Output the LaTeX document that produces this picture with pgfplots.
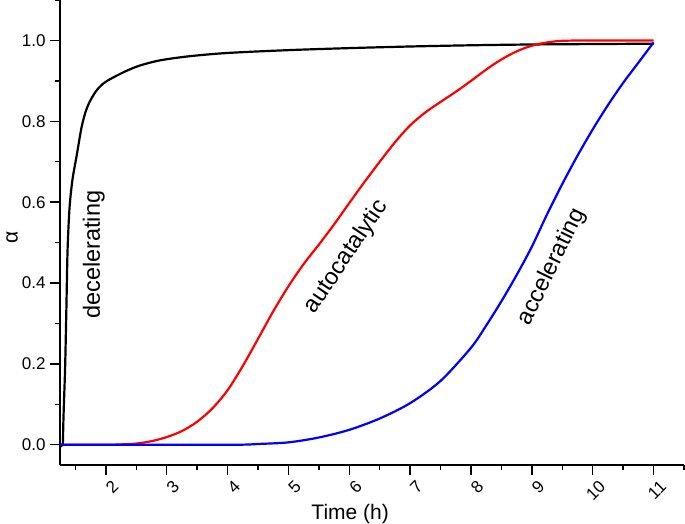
\documentclass[border=0pt]{standalone}
\usepackage{fontspec}
\setmainfont{Liberation Sans}
\usepackage{pgfplots}
\pgfplotsset{compat=1.18}

% alpha(t) curves
\pgfplotstableread{
t a
1.25 0
1.29 0
1.30 0.05
1.31 0.10
1.33 0.19
1.35 0.33
1.37 0.48
1.40 0.58
1.43 0.63
1.46 0.665
1.52 0.715
1.60 0.785
1.67 0.825
1.74 0.85
1.85 0.877
2.0 0.898
2.3 0.922
2.56 0.938
2.9 0.951
3.38 0.961
4.0 0.969
5.0 0.976
6.0 0.981
7.0 0.985
8.0 0.988
9.0 0.99
10.0 0.991
11.0 0.992
}\decel

\pgfplotstableread{
t a
1.25 0
2.0 0
2.25 0.001
2.5 0.003
2.75 0.009
3.0 0.019
3.25 0.034
3.5 0.057
3.75 0.09
4.0 0.135
4.25 0.195
4.5 0.262
4.75 0.33
5.0 0.392
5.25 0.447
5.5 0.495
5.75 0.545
6.0 0.598
6.25 0.65
6.5 0.70
6.75 0.748
7.0 0.79
7.25 0.822
7.5 0.848
7.75 0.873
8.0 0.9
8.25 0.928
8.5 0.953
8.75 0.973
9.0 0.987
9.25 0.995
9.5 0.999
10.0 1.0
11.0 1.0
}\autocat

\pgfplotstableread{
t a
1.25 0
4.0 0
4.5 0.002
5.0 0.006
5.5 0.018
6.0 0.037
6.5 0.065
7.0 0.103
7.5 0.158
8.0 0.24
8.25 0.295
8.5 0.355
8.75 0.42
9.0 0.49
9.25 0.57
9.5 0.645
9.75 0.715
10.0 0.78
10.25 0.84
10.5 0.895
10.75 0.945
11.0 0.995
}\accel

\begin{document}
\begin{tikzpicture}
\begin{axis}[
  scale only axis,
  width=624pt, height=465pt,
  xmin=1.246, xmax=11.5,
  ymin=-0.05, ymax=1.1,
  axis x line*=bottom, axis y line*=left,
  axis line style={line width=1.6pt},
  xtick={2,...,11},
  minor xtick={1.5,2.5,...,11.5},
  ytick={0,0.2,...,1.0},
  minor ytick={0.1,0.3,...,1.1},
  tick align=outside,
  major tick length=10pt, minor tick length=5pt,
  every tick/.style={line width=1.4pt, black},
  /pgf/number format/assume math mode=true,
  yticklabel style={/pgf/number format/fixed, /pgf/number format/fixed zerofill, /pgf/number format/precision=1},
  tick label style={font=\fontsize{17}{19}\selectfont},
  xticklabel style={rotate=45, anchor=east, xshift=4.25pt, yshift=-12.75pt},
  yticklabel style={anchor=east, xshift=-1pt},
  xlabel={Time (h)}, ylabel={α},
  label style={font=\fontsize{21}{25}\selectfont},
  xlabel style={at={(axis description cs:0.465,0)}, anchor=center, yshift=-49pt},
  ylabel style={at={(axis description cs:0,0.49)}, anchor=center, yshift=48pt},
  clip=false,
]
\addplot[black, line width=2.2pt, smooth] table[x=t, y=a] {\decel};
\addplot[red, line width=2.2pt, smooth] table[x=t, y=a] {\autocat};
\addplot[blue, line width=2.2pt, smooth] table[x=t, y=a] {\accel};

\node[rotate=90, font=\fontsize{23.5}{28}\selectfont] at (axis cs:1.8,0.47) {decelerating};
\node[rotate=56, font=\fontsize{23.5}{28}\selectfont] at (axis cs:5.95,0.465) {autocatalytic};
\node[rotate=64, font=\fontsize{23.5}{28}\selectfont] at (axis cs:9.33,0.44) {accelerating};
\end{axis}
\pgfresetboundingbox
\path ([xshift=-60pt,yshift=-59pt]current axis.south west) rectangle ([xshift=1pt]current axis.north east);
\end{tikzpicture}
\end{document}
